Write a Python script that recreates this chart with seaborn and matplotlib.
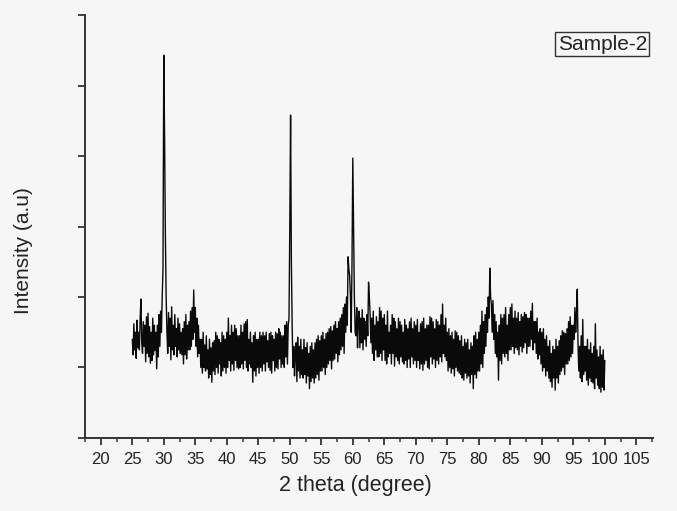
import numpy as np
import pandas as pd
import matplotlib
matplotlib.use('Agg')
import matplotlib.pyplot as plt
import seaborn as sns

# XRD pattern, 0.125 degree steps from 25 to 100
start_deg = 25.0
step_deg = 0.125
intensity = [
    140, 118, 162, 125, 150, 113, 167, 128,   # 25
    150, 125, 170, 197, 135, 120, 165, 130,   # 26
    160, 108, 172, 120, 177, 115, 158, 106,   # 27
    150, 110, 170, 118, 160, 124, 150, 98,    # 28
    160, 115, 175, 130, 180, 150, 200, 240,   # 29
    543, 430, 290, 200, 150, 120, 178, 130,   # 30
    170, 111, 186, 125, 160, 118, 175, 130,   # 31
    155, 115, 170, 125, 162, 120, 150, 118,   # 32
    155, 105, 165, 118, 175, 112, 160, 125,   # 33
    165, 125, 180, 130, 185, 140, 210, 150,   # 34
    185, 130, 170, 115, 160, 120, 140, 100,   # 35
    140, 92, 150, 100, 132, 95, 145, 98,      # 36
    125, 85, 140, 90, 128, 79, 135, 95,       # 37
    138, 90, 150, 100, 145, 92, 140, 105,     # 38
    135, 88, 150, 95, 145, 100, 140, 92,      # 39
    150, 100, 170, 110, 145, 95, 160, 105,    # 40
    150, 96, 160, 110, 155, 100, 145, 98,     # 41
    145, 100, 160, 105, 150, 98, 162, 110,    # 42
    165, 100, 168, 95, 140, 105, 150, 100,    # 43
    135, 79, 145, 95, 150, 88, 140, 100,      # 44
    140, 92, 150, 100, 145, 95, 150, 105,     # 45
    145, 95, 150, 108, 138, 100, 148, 96,     # 46
    150, 92, 145, 110, 140, 95, 150, 100,     # 47
    148, 98, 155, 112, 150, 100, 145, 105,    # 48
    145, 100, 160, 115, 165, 105, 160, 170,   # 49
    300, 458, 250, 160, 100, 130, 88, 120,    # 50
    135, 80, 143, 95, 130, 85, 140, 90,       # 51
    125, 85, 140, 90, 128, 78, 135, 88,       # 52
    120, 70, 130, 80, 135, 85, 125, 78,       # 53
    135, 85, 140, 90, 145, 82, 138, 95,       # 54
    145, 95, 150, 100, 140, 90, 148, 100,     # 55
    150, 105, 155, 110, 158, 98, 152, 110,    # 56
    160, 112, 165, 120, 155, 108, 165, 118,   # 57
    170, 125, 175, 130, 185, 120, 190, 150,   # 58
    200, 160, 257, 240, 230, 200, 150, 250,   # 59
    397, 300, 200, 150, 145, 185, 128, 170,   # 60
    180, 128, 170, 135, 182, 125, 170, 140,   # 61
    165, 130, 175, 145, 221, 200, 175, 135,   # 62
    170, 120, 180, 110, 160, 125, 172, 115,   # 63
    165, 115, 185, 120, 180, 110, 170, 125,   # 64
    175, 110, 160, 105, 180, 115, 150, 120,   # 65
    160, 105, 175, 120, 170, 102, 165, 115,   # 66
    155, 110, 170, 105, 165, 115, 160, 108,   # 67
    150, 105, 168, 110, 160, 100, 155, 112,   # 68
    165, 100, 170, 115, 155, 105, 165, 110,   # 69
    160, 100, 168, 110, 150, 98, 162, 105,    # 70
    165, 96, 170, 105, 155, 110, 160, 100,    # 71
    160, 98, 172, 115, 170, 105, 165, 112,    # 72
    155, 100, 168, 110, 165, 105, 160, 115,   # 73
    175, 108, 190, 120, 160, 115, 170, 110,   # 74
    150, 95, 155, 100, 145, 92, 150, 98,      # 75
    140, 88, 152, 100, 150, 95, 145, 92,      # 76
    138, 90, 145, 85, 130, 82, 140, 92,       # 77
    135, 85, 140, 88, 125, 78, 135, 90,       # 78
    130, 70, 145, 90, 150, 85, 140, 95,       # 79
    150, 95, 160, 105, 180, 100, 165, 120,    # 80
    175, 130, 185, 150, 200, 170, 241, 200,   # 81
    190, 150, 195, 140, 175, 120, 165, 115,   # 82
    150, 82, 160, 110, 175, 105, 170, 120,    # 83
    175, 115, 185, 120, 160, 110, 175, 125,   # 84
    185, 125, 190, 130, 170, 120, 180, 128,   # 85
    170, 125, 178, 118, 165, 130, 175, 122,   # 86
    172, 128, 178, 135, 175, 120, 170, 130,   # 87
    170, 130, 180, 140, 191, 125, 165, 135,   # 88
    165, 120, 170, 112, 150, 118, 155, 105,   # 89
    150, 95, 155, 100, 140, 88, 145, 95,      # 90
    130, 85, 138, 80, 120, 72, 130, 85,       # 91
    125, 68, 140, 85, 130, 78, 138, 90,       # 92
    145, 95, 152, 100, 150, 90, 148, 105,     # 93
    155, 105, 165, 110, 172, 115, 160, 120,   # 94
    160, 140, 185, 150, 175, 211, 130, 95,    # 95
    130, 85, 145, 80, 168, 90, 130, 95,       # 96
    130, 82, 140, 75, 125, 85, 135, 80,       # 97
    120, 78, 130, 70, 162, 85, 125, 75,       # 98
    115, 70, 130, 65, 118, 72, 125, 68,       # 99
    110,                                      # 100
]
two_theta = start_deg + step_deg * np.arange(len(intensity))

x_ticks = list(range(20, 110, 5))
sample_label = 'Sample-2'

df = pd.DataFrame({'two_theta': two_theta, 'intensity': intensity})

sns.set_style('ticks')
plt.rcParams['font.family'] = ['Liberation Sans', 'DejaVu Sans']

fig = plt.figure(figsize=(6.77, 5.11), dpi=100)
fig.patch.set_facecolor('#f6f6f6')
ax = fig.add_axes([0.1256, 0.1429, 0.8385, 0.8277])
ax.set_facecolor('#f6f6f6')

sns.lineplot(data=df, x='two_theta', y='intensity', ax=ax,
             color='#0a0a0a', linewidth=1.0)

ax.set_xlim(17.5, 107.6)
ax.set_ylim(0, 600)
ax.set_xticks(x_ticks)
ax.set_xticks(np.arange(17.5, 107.6, 2.5), minor=True)
ax.set_yticks(np.arange(0, 601, 100))
ax.set_yticklabels([])

sns.despine(ax=ax)
for side in ['left', 'bottom']:
    ax.spines[side].set_linewidth(1.4)
    ax.spines[side].set_color('#333333')

ax.tick_params(axis='x', which='major', length=5, width=1.3, color='#333333',
               labelsize=12, pad=5, labelcolor='#222222')
ax.tick_params(axis='x', which='minor', length=3, width=1.1, color='#333333')
ax.tick_params(axis='y', which='major', length=5, width=1.3, color='#333333')

ax.set_xlabel('2 theta (degree)', fontsize=15.5, color='#222222')
ax.set_ylabel('Intensity (a.u)', fontsize=15, color='#222222')
ax.xaxis.set_label_coords(0.476, -0.088)
ax.yaxis.set_label_coords(-0.092, 0.444)

ax.text(0.911, 0.931, sample_label, transform=ax.transAxes, fontsize=15,
        ha='center', va='center', color='#222222',
        bbox=dict(boxstyle='square,pad=0.12', facecolor='none',
                  edgecolor='#333333', linewidth=1.0))

fig.savefig('out.png', dpi=100, facecolor=fig.get_facecolor())
